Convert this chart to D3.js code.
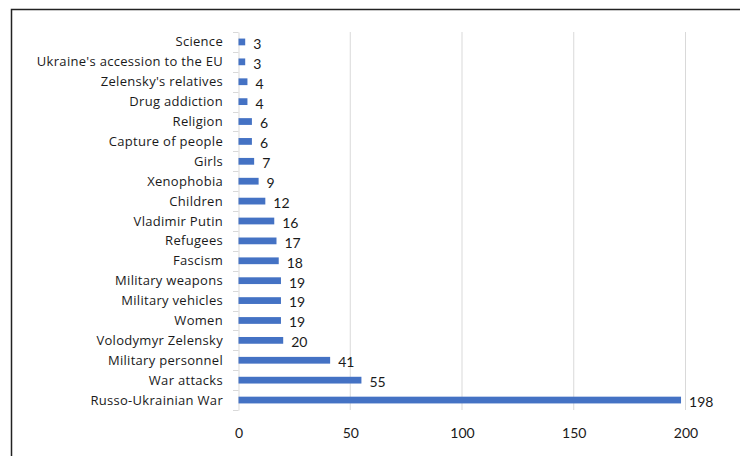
<!DOCTYPE html>
<html><head><meta charset="utf-8">
<script src="https://cdn.jsdelivr.net/npm/d3@7"></script>
<style>body{margin:0;background:#fff}svg{display:block}</style>
</head><body>
<script>
const categories = ["Science","Ukraine's accession to the EU","Zelensky's relatives","Drug addiction","Religion","Capture of people","Girls","Xenophobia","Children","Vladimir Putin","Refugees","Fascism","Military weapons","Military vehicles","Women","Volodymyr Zelensky","Military personnel","War attacks","Russo-Ukrainian War"];
const values = [3,3,4,4,6,6,7,9,12,16,17,18,19,19,19,20,41,55,198];
const xTicks = [0,50,100,150,200];

const W=740,H=456;
const svg=d3.select("body").append("svg").attr("width",W).attr("height",H);
const font="'Open Sans', Lato, sans-serif";
const font2="Lato, 'Open Sans', sans-serif";
// frame
svg.append("path").attr("d","M11.5,"+H+"V9.5H"+W).attr("fill","none").attr("stroke","#222").attr("stroke-width",1.5);

const x=d3.scaleLinear().domain([0,200]).range([238.5,685.5]);
const y=d3.scaleBand().domain(categories).range([32,410]).paddingInner(0.66).paddingOuter(0.33);

// gridlines
svg.append("g").selectAll("line").data(xTicks.slice(1)).join("line")
 .attr("x1",d=>x(d)).attr("x2",d=>x(d)).attr("y1",32).attr("y2",410)
 .attr("stroke","#d9d9d9").attr("stroke-width",1);

// category axis line
const ya=svg.append("g").attr("transform","translate(238.5,0)").call(d3.axisLeft(y).tickSize(0).tickFormat("").tickSizeOuter(0));
ya.select(".domain").attr("stroke","#d9d9d9");
ya.selectAll(".tick").remove();
// category boundary ticks
const bounds=d3.range(categories.length+1).map(i=>32+i*(378/categories.length));
svg.append("g").selectAll("line").data(bounds).join("line")
 .attr("x1",233).attr("x2",238.5).attr("y1",d=>Math.round(d)+0.5).attr("y2",d=>Math.round(d)+0.5)
 .attr("stroke","#d9d9d9");

// labels
svg.append("g").selectAll("text").data(categories).join("text")
 .attr("x",223).attr("y",d=>y(d)+y.bandwidth()/2).attr("dy","0.35em")
 .attr("text-anchor","end").attr("font-family",font).attr("font-size",13).attr("letter-spacing",0.3).attr("fill","#1a1a1a")
 .text(d=>d);

// bars
svg.append("g").selectAll("rect").data(values).join("rect")
 .attr("x",x(0)).attr("y",(d,i)=>y(categories[i]))
 .attr("width",d=>x(d)-x(0)).attr("height",y.bandwidth()).attr("fill","#4472C4");

// value labels
svg.append("g").selectAll("text").data(values).join("text")
 .attr("x",d=>x(d)+8).attr("y",(d,i)=>y(categories[i])+y.bandwidth()/2+2).attr("dy","0.35em")
 .attr("font-family",font2).attr("font-size",14).attr("fill","#1a1a1a")
 .text(d=>d);

// x axis
const g=svg.append("g").attr("transform","translate(0,428)").call(d3.axisBottom(x).tickValues(xTicks).tickSize(0).tickPadding(0));
g.select(".domain").remove();
g.selectAll("text").attr("font-family",font2).attr("font-size",14).attr("fill","#1a1a1a");
</script>
</body></html>
